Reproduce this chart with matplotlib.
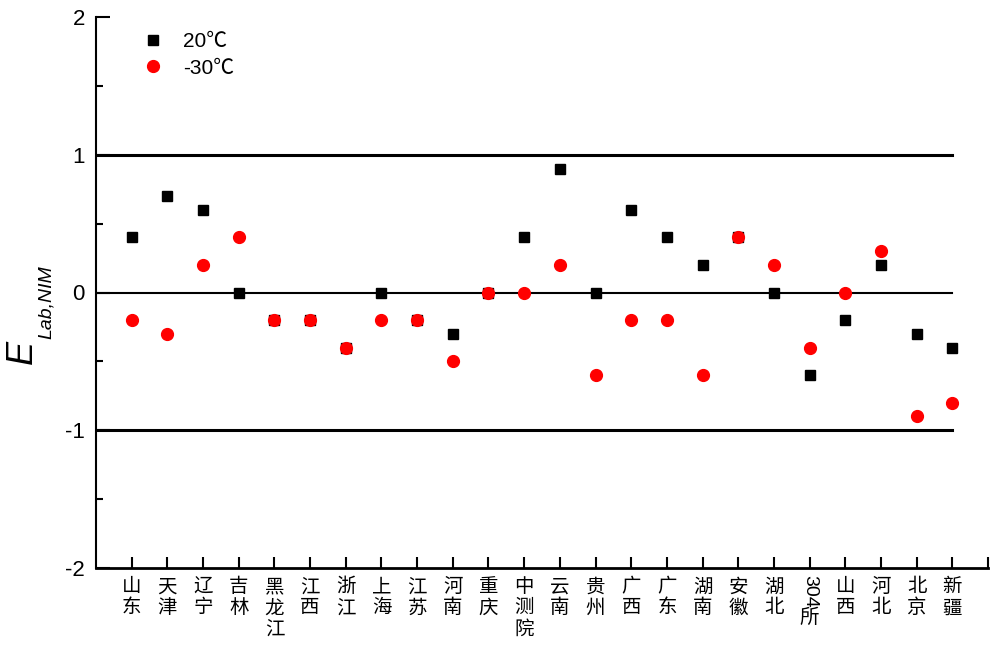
import numpy as np
import matplotlib.pyplot as plt

# 各实验室名称
labs = ['山东', '天津', '辽宁', '吉林', '黑龙江', '江西', '浙江', '上海', '江苏', '河南',
        '重庆', '中测院', '云南', '贵州', '广西', '广东', '湖南', '安徽', '湖北', '304所',
        '山西', '河北', '北京', '新疆']

# En 值
e_20 = [0.4, 0.7, 0.6, 0.0, -0.2, -0.2, -0.4, 0.0, -0.2, -0.3,
        0.0, 0.4, 0.9, 0.0, 0.6, 0.4, 0.2, 0.4, 0.0, -0.6,
        -0.2, 0.2, -0.3, -0.4]
e_m30 = [-0.2, -0.3, 0.2, 0.4, -0.2, -0.2, -0.4, -0.2, -0.2, -0.5,
         0.0, 0.0, 0.2, -0.6, -0.2, -0.2, -0.6, 0.4, 0.2, -0.4,
         0.0, 0.3, -0.9, -0.8]

num_font = ['Liberation Sans', 'Noto Sans CJK SC']
cjk_font = ['Noto Sans CJK SC']

x = np.arange(1, len(labs) + 1)

fig = plt.figure(figsize=(9.92, 6.48), dpi=100)
ax = fig.add_axes([96 / 992, 1 - 568 / 648, (988 - 96) / 992, (568 - 17) / 648])

# 参考线
ax.plot([0, len(labs)], [1, 1], color='black', lw=2.2, zorder=1)
ax.plot([0, len(labs)], [-1, -1], color='black', lw=2.2, zorder=1)
ax.plot([0, len(labs)], [0, 0], color='black', lw=1.5, zorder=1)

ax.plot(x, e_20, 's', color='black', ms=7, label='20℃', zorder=3)
ax.plot(x, e_m30, 'o', color='red', ms=8.5, label='-30℃', zorder=4)

ax.set_xlim(0, len(labs) + 1)
ax.set_ylim(-2, 2)

ax.spines['top'].set_visible(False)
ax.spines['right'].set_visible(False)
ax.spines['left'].set_linewidth(1.5)
ax.spines['bottom'].set_linewidth(2)

ax.set_yticks([-2, -1, 0, 1, 2])
ax.set_yticklabels(['-2', '-1', '0', '1', '2'], family=num_font, fontsize=16)
ax.set_yticks([-1.5, -0.5, 0.5, 1.5], minor=True)
ax.tick_params(axis='y', which='major', direction='in', length=10, width=1.5, pad=8)
ax.tick_params(axis='y', which='minor', direction='in', length=5, width=1.5)

# x 轴标签: 竖排
ticklabels = ['' if s == '304所' else '\n'.join(s) for s in labs] + ['']
ax.set_xticks(list(x) + [len(labs) + 1])
ax.set_xticklabels(ticklabels, family=cjk_font, fontsize=14, linespacing=1.0,
                   va='top')
ax.tick_params(axis='x', direction='in', length=8, width=1.5, pad=6)

i304 = labs.index('304所') + 1
ax.annotate('304', xy=(i304, 0), xycoords=('data', 'axes fraction'),
            xytext=(0, -5), textcoords='offset points', rotation=-90,
            ha='center', va='top', family=num_font, fontsize=14)
ax.annotate('所', xy=(i304, 0), xycoords=('data', 'axes fraction'),
            xytext=(0, -28), textcoords='offset points',
            ha='center', va='top', family=cjk_font, fontsize=14)

# y 轴标题
fig.text(22 / 992, 1 - 352 / 648, 'E', rotation=90, ha='center', va='center',
         family='Liberation Sans', style='italic', fontsize=26)
fig.text(46 / 992, 1 - 302 / 648, 'Lab,NIM', rotation=90, ha='center', va='center',
         family='Liberation Sans', style='italic', fontsize=14)

ax.legend(loc='upper left', bbox_to_anchor=(0.031, 1.006), frameon=False,
          prop={'family': num_font, 'size': 15}, handlelength=1.0,
          handletextpad=0.95, labelspacing=0.35)

fig.savefig('out.png', dpi=100)
